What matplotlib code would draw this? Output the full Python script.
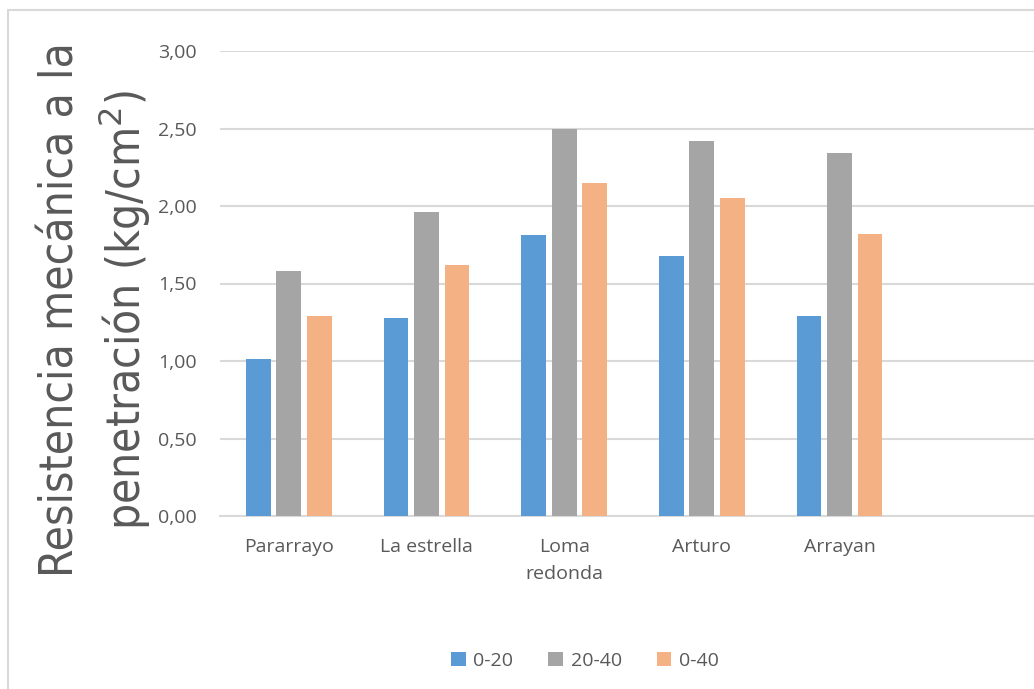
import numpy as np
import matplotlib.pyplot as plt
from matplotlib.patches import Rectangle

categories = ["Pararrayo", "La estrella", "Loma\nredonda", "Arturo", "Arrayan", ""]
series_names = ["0-20", "20-40", "0-40"]
v_0_20 = [1.01, 1.28, 1.81, 1.68, 1.29]
v_20_40 = [1.58, 1.96, 2.50, 2.42, 2.34]
v_0_40 = [1.29, 1.62, 2.15, 2.05, 1.82]
colors = ["#5B9BD5", "#A5A5A5", "#F4B183"]

plt.rcParams['font.family'] = ['Open Sans', 'DejaVu Sans']

fig = plt.figure(figsize=(10.34, 6.89), dpi=100)
W, H = 1034, 689
ax = fig.add_axes([220 / W, 1 - 516 / H, 826 / W, 465 / H])

x = np.arange(len(v_0_20))
width = 0.18
step = 0.222
for i, (vals, c, name) in enumerate(zip([v_0_20, v_20_40, v_0_40], colors, series_names)):
    ax.bar(x + (i - 1) * step, vals, width, color=c, label=name, zorder=3)

ax.set_xlim(-0.5, 5.5)
ax.set_ylim(0, 3.0)
ticks = np.arange(0, 3.01, 0.5)
ax.set_yticks(ticks)
ax.set_yticklabels([f"{v:.2f}".replace(".", ",") for v in ticks])
ax.set_xticks(np.arange(len(categories)))
ax.set_xticklabels(categories, linespacing=1.6)
ax.tick_params(axis='both', length=0, labelsize=14, colors="#595959")
ax.tick_params(axis='y', pad=17)
ax.tick_params(axis='x', pad=16)
ax.grid(axis='y', color="#D9D9D9", linewidth=1.5, zorder=0)
for s in ["top", "right", "left"]:
    ax.spines[s].set_visible(False)
ax.spines["bottom"].set_color("#D9D9D9")
ax.spines["bottom"].set_linewidth(1.5)

lab_font = dict(rotation=90, ha='center', va='center', fontsize=33, color="#595959",
                family=['DejaVu Sans'], stretch='condensed')
fig.text(61 / W, 1 - 310 / H, "Resistencia mecánica a la", **lab_font)
fig.text(124 / W, 1 - 310 / H, "penetración (kg/cm$^2$)", **lab_font)

leg = fig.legend(loc='center', bbox_to_anchor=(585 / W, 1 - 661 / H), ncol=3, frameon=False,
                 fontsize=14, handlelength=0.75, handleheight=0.75, columnspacing=1.8, handletextpad=0.4)
for t in leg.get_texts():
    t.set_color("#595959")

fig.patches.append(Rectangle((8 / W, -0.1), 1.2, 1 - 10 / H + 0.1, transform=fig.transFigure,
                             fill=False, edgecolor="#D9D9D9", linewidth=1.5))

fig.savefig("out.png", dpi=100)
